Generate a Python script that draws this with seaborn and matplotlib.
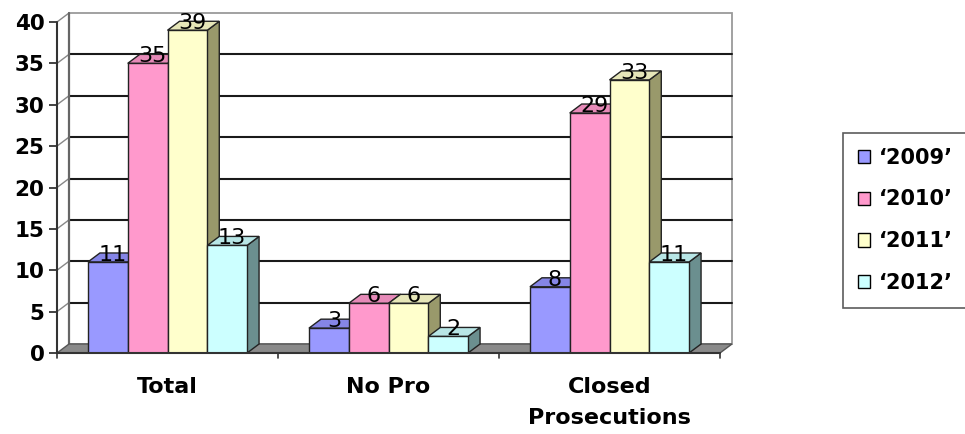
import numpy as np
import pandas as pd
import seaborn as sns
import matplotlib
matplotlib.use("Agg")
import matplotlib.pyplot as plt
from matplotlib.patches import Polygon, Patch, Rectangle
from matplotlib.transforms import IdentityTransform

# ---- data ----
categories = ["Total", "No Pro", "Closed\nProsecutions"]
years = ["\u20182009\u2019", "\u20182010\u2019", "\u20182011\u2019", "\u20182012\u2019"]
v2009 = [11, 3, 8]
v2010 = [35, 6, 29]
v2011 = [39, 6, 33]
v2012 = [13, 2, 11]
y_ticks = [0, 5, 10, 15, 20, 25, 30, 35, 40]

front_colors = ["#9999FF", "#FF99CC", "#FFFFCC", "#CCFFFF"]
top_colors = ["#8585E6", "#E68AB8", "#E6E6B8", "#B8E6E6"]
side_colors = ["#55558F", "#995C7A", "#99996B", "#6B8F8F"]

rows = []
for yr, vals in zip(years, [v2009, v2010, v2011, v2012]):
    for c, v in zip(categories, vals):
        rows.append({"category": c, "year": yr, "value": v})
df = pd.DataFrame(rows)

sns.set_style("white")
plt.rcParams["font.family"] = ["DejaVu Sans"]
plt.rcParams["text.color"] = "black"
plt.rcParams["xtick.color"] = "black"
plt.rcParams["ytick.color"] = "black"

W, H, DPI = 965, 434, 100
fig = plt.figure(figsize=(W / DPI, H / DPI), dpi=DPI)
left_px, right_px, bottom_px, top_px = 57, 720, 353, 22
ax = fig.add_axes([left_px / W, 1 - bottom_px / H, (right_px - left_px) / W,
                   (bottom_px - top_px) / H])

sns.barplot(data=df, x="category", y="value", hue="year", order=categories,
            hue_order=years, palette=front_colors, width=0.72, ax=ax,
            legend=False, saturation=1, linewidth=1.0, edgecolor="#222222")

bars = sorted([p for p in ax.patches if isinstance(p, Rectangle)],
              key=lambda p: p.get_x())

ax.set_xlim(-0.5, 2.5)
ax.set_ylim(0, 40)
ax.set_yticks(y_ticks)
ax.set_xlabel("")
ax.set_ylabel("")
ax.patch.set_visible(False)
for s in ax.spines.values():
    s.set_visible(False)

ax.set_yticklabels([str(t) for t in y_ticks], fontsize=15.5, fontweight="bold",
                   color="black")
ax.tick_params(axis="y", length=6, width=1.2, color="#222222", pad=3, left=True)
ax.set_xticks(range(len(categories)))
ax.set_xticklabels(categories, fontsize=16, fontweight="bold", linespacing=1.7,
                   color="black")
ax.tick_params(axis="x", length=0, pad=17)

DX, DY = 12, 9  # depth offset in pixels
T = ax.transData
ident = IdentityTransform()

def d(x, y):
    return T.transform((x, y))

def line(xs, ys, color, lw, z):
    ax.add_line(plt.Line2D(xs, ys, transform=ident, color=color, lw=lw,
                           zorder=z, clip_on=False))

def poly(pts, fc, ec, lw, z):
    ax.add_patch(Polygon(pts, closed=True, transform=ident, facecolor=fc,
                         edgecolor=ec, lw=lw, zorder=z, clip_on=False))

# back wall & floor
x0p, y0p = d(-0.5, 0)
x1p, _ = d(2.5, 0)
_, ytp = d(-0.5, 40)
poly([(x0p + DX, y0p + DY), (x1p + DX, y0p + DY), (x1p + DX, ytp + DY),
      (x0p + DX, ytp + DY)], "white", "#9a9a9a", 1.3, 0.5)
for t in y_ticks[1:]:
    _, yp = d(-0.5, t)
    if t < 40:
        line([x0p + DX, x1p + DX], [yp + DY, yp + DY], "#1a1a1a", 1.5, 1)
    line([x0p, x0p + DX], [yp, yp + DY], "#888888", 1.0, 1)
line([x0p + DX, x0p + DX], [y0p + DY, ytp + DY], "#666666", 1.6, 1)
poly([(x0p, y0p), (x1p, y0p), (x1p + DX, y0p + DY), (x0p + DX, y0p + DY)],
     "#8a8a8a", "#555555", 1.0, 1.2)
# front axes lines
line([x0p, x0p], [y0p, ytp], "#333333", 1.5, 10)
line([x0p, x1p], [y0p, y0p], "#333333", 1.5, 10)
for b in [-0.5, 0.5, 1.5, 2.5]:
    bx, by = d(b, 0)
    line([bx, bx], [by, by - 5], "#333333", 1.2, 10)

# 3D faces for each bar
for k, p in enumerate(bars):
    xa, w, h = p.get_x(), p.get_width(), p.get_height()
    fc = p.get_facecolor()
    idx = int(np.argmin([np.sum(np.abs(np.array(matplotlib.colors.to_rgba(c)) - np.array(fc)))
                         for c in front_colors]))
    px0, py0 = d(xa, 0)
    px1, py1 = d(xa + w, h)
    z = 2 + k * 0.1
    poly([(px1, py0), (px1, py1), (px1 + DX, py1 + DY), (px1 + DX, py0 + DY)],
         side_colors[idx], "#222222", 1.0, z)
    poly([(px0, py1), (px1, py1), (px1 + DX, py1 + DY), (px0 + DX, py1 + DY)],
         top_colors[idx], "#222222", 1.0, z + 0.01)
    p.set_zorder(z + 0.02)
    p.set_edgecolor("#222222")
    ax.annotate(f"{int(round(h))}", xy=(xa + w / 2, h), xytext=(5, -3),
                textcoords="offset pixels", ha="center", va="bottom",
                fontsize=16, color="black", zorder=20, annotation_clip=False)

# legend
handles = [Patch(facecolor=c, edgecolor="black", lw=1.0) for c in front_colors]
leg = fig.legend(handles, years, loc="upper left",
                 bbox_to_anchor=(843 / W, 1 - 133 / H), frameon=True, fancybox=False,
                 prop={"size": 15, "weight": "bold"}, handlelength=0.6,
                 handleheight=0.6, handletextpad=0.4, labelspacing=1.05,
                 borderpad=0.7, borderaxespad=0)
leg.get_frame().set_edgecolor("#333333")
leg.get_frame().set_linewidth(1.2)

fig.savefig("out.png", dpi=DPI)
